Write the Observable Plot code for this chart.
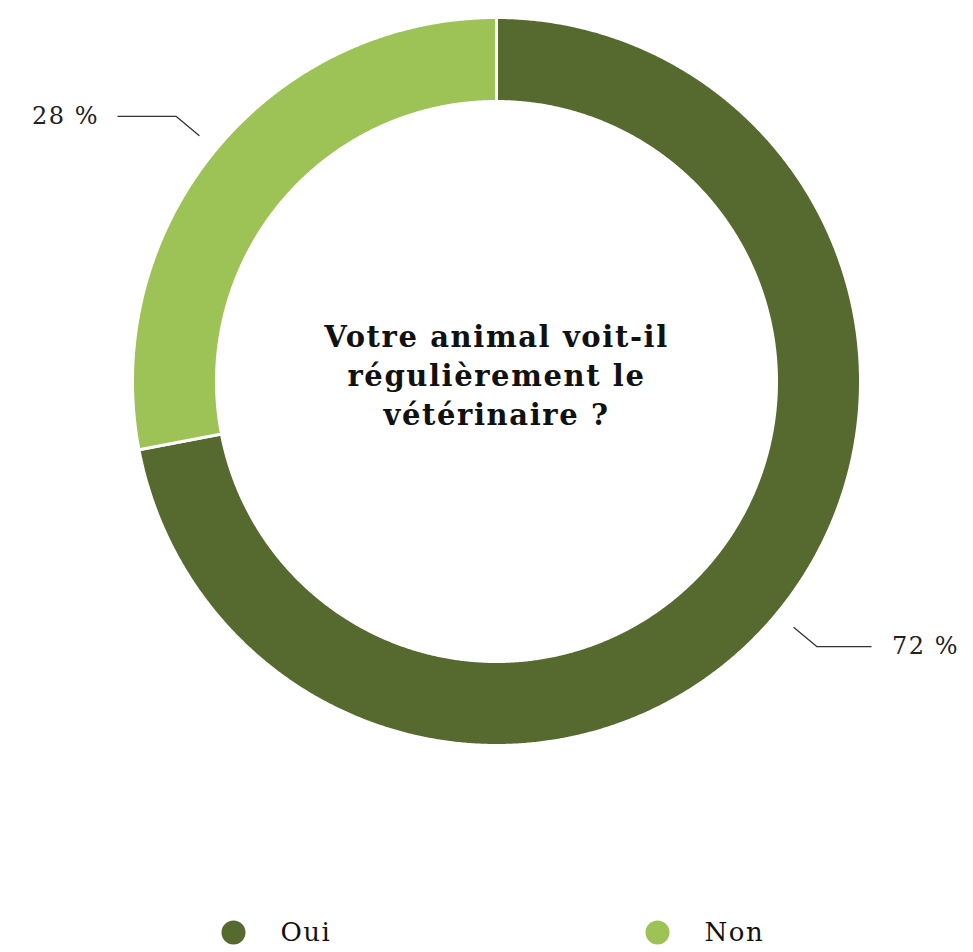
<!DOCTYPE html>
<html>
<head>
<meta charset="utf-8">
<script src="https://cdn.jsdelivr.net/npm/d3@7"></script>
<script src="https://cdn.jsdelivr.net/npm/@observablehq/plot@0.6"></script>
<style>
  html, body { margin: 0; padding: 0; background: #fff; }
</style>
</head>
<body>
<div id="chart"></div>
<script>
// ---- data ----
const categories = ["Oui", "Non"];
const values = [72, 28];
const valueLabels = ["72 %", "28 %"];
const colors = ["#566a2f", "#9dc256"];
const titleLines = ["Votre animal voit-il", "régulièrement le", "vétérinaire ?"];

// ---- layout (pixel units mapped 1:1 by the scales) ----
const W = 973, H = 952;
const cx = 496, cy = 381, R = 364, r = 280;
const font = "'DejaVu Serif', serif";

const pie = d3.pie().sort(null).value(d => d)(values);
const pt = (a, rad) => [cx + rad * Math.sin(a), cy - rad * Math.cos(a)];

// slice polygons
const polys = [];
pie.forEach((s, i) => {
  const n = Math.max(8, Math.ceil((s.endAngle - s.startAngle) / 0.005));
  const pts = [];
  for (let k = 0; k <= n; k++) {
    const a = s.startAngle + (s.endAngle - s.startAngle) * k / n;
    pts.push(pt(a, R));
  }
  for (let k = n; k >= 0; k--) {
    const a = s.startAngle + (s.endAngle - s.startAngle) * k / n;
    pts.push(pt(a, r));
  }
  pts.forEach(([x, y]) => polys.push({key: categories[i], x, y}));
});

// leader lines + labels
const leaders = [];
const labelData = [];
pie.forEach((s, i) => {
  const mid = (s.startAngle + s.endAngle) / 2;
  const p1 = pt(mid, R + 22);
  const p2 = pt(mid, R + 52);
  const right = Math.sin(mid) > 0;
  const p3 = [p2[0] + (right ? 54 : -58), p2[1]];
  [p1, p2, p3].forEach(([x, y]) => leaders.push({key: categories[i], x, y}));
  labelData.push({
    x: p3[0] + (right ? 21 : -19), y: p3[1],
    text: valueLabels[i], right
  });
});

const titleData = titleLines.map((t, i) => ({t, x: cx, y: cy - 44 + i * 39}));
const legendData = categories.map((c, i) => ({c, color: colors[i], x: [233, 657][i], y: 932}));

const chart = Plot.plot({
  width: W, height: H,
  margin: 0,
  x: {domain: [0, W], range: [0, W], axis: null},
  y: {domain: [0, H], range: [0, H], axis: null},
  color: {domain: categories, range: colors},
  style: {fontFamily: font, background: "#fff"},
  marks: [
    Plot.line(polys, {x: "x", y: "y", z: "key", fill: "key", stroke: "#ffffff", strokeWidth: 3, curve: "linear-closed"}),
    Plot.line(leaders, {x: "x", y: "y", z: "key", stroke: "#333", strokeWidth: 1.3}),
    Plot.text(labelData.filter(d => d.right), {x: "x", y: "y", text: "text", textAnchor: "start", fontSize: 24, fill: "#222", fontFamily: font, style: {letterSpacing: "1.5px"}}),
    Plot.text(labelData.filter(d => !d.right), {x: "x", y: "y", text: "text", textAnchor: "end", fontSize: 24, fill: "#222", fontFamily: font}),
    Plot.text(titleData, {x: "x", y: "y", text: "t", fontSize: 29, fontWeight: "bold", fill: "#111", fontFamily: font}),
    Plot.dot(legendData, {x: "x", y: "y", r: 12, fill: "c"}),
    Plot.text(legendData, {x: d => d.x + 47, y: "y", text: "c", textAnchor: "start", fontSize: 26, fill: "#111", fontFamily: font})
  ]
});
chart.querySelectorAll("text").forEach(t => t.setAttribute("letter-spacing", t.textContent.length > 5 ? "1.6" : "1.5"));
document.getElementById("chart").appendChild(chart);
</script>
</body>
</html>
